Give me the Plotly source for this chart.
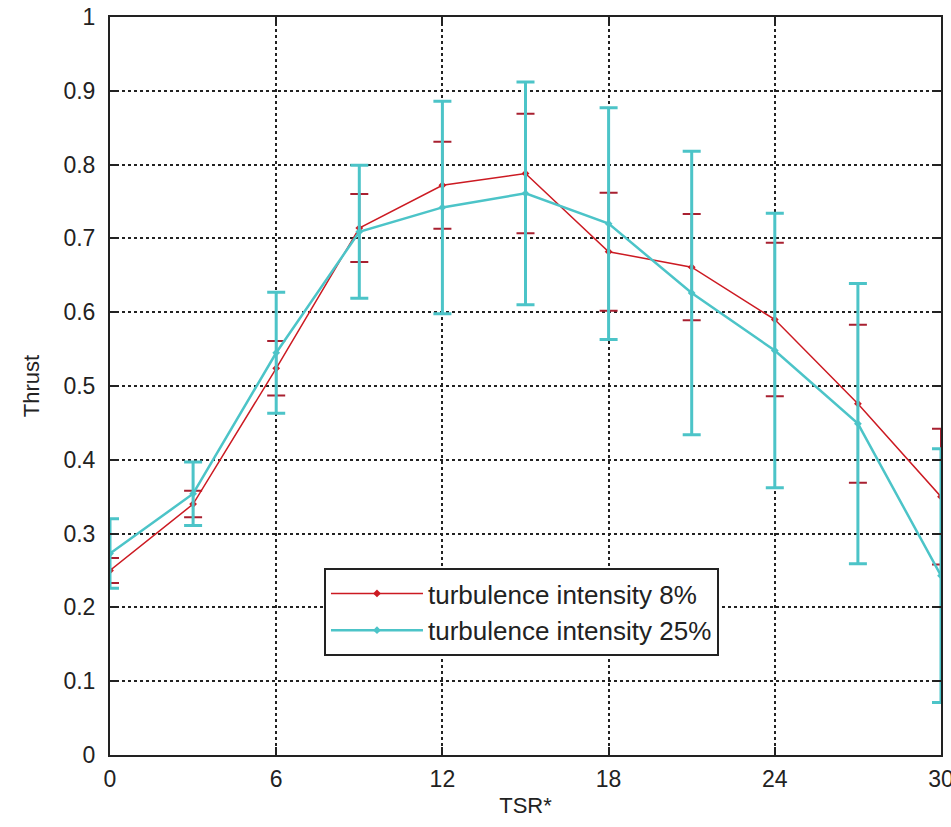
import plotly.graph_objects as go

tsr = [0, 3, 6, 9, 12, 15, 18, 21, 24, 27, 30]

thrust_8 = [0.250, 0.340, 0.524, 0.714, 0.772, 0.788, 0.682, 0.661, 0.590, 0.476, 0.350]
err_8 = [0.017, 0.018, 0.037, 0.046, 0.059, 0.081, 0.080, 0.072, 0.104, 0.107, 0.092]

thrust_25 = [0.273, 0.354, 0.545, 0.709, 0.742, 0.761, 0.720, 0.626, 0.548, 0.449, 0.243]
err_25 = [0.047, 0.043, 0.082, 0.090, 0.144, 0.151, 0.157, 0.192, 0.186, 0.190, 0.172]

x_ticks = [0, 6, 12, 18, 24, 30]
y_ticks = [0, 0.1, 0.2, 0.3, 0.4, 0.5, 0.6, 0.7, 0.8, 0.9, 1]
y_labels = ["0", "0.1", "0.2", "0.3", "0.4", "0.5", "0.6", "0.7", "0.8", "0.9", "1"]

RED = "#cc1a22"
CYAN = "#4cc4c8"
FONT = "Liberation Sans, Arial, sans-serif"

fig = go.Figure()
fig.add_trace(go.Scatter(
    x=tsr, y=thrust_8, mode="lines+markers",
    name="turbulence intensity 8%",
    line=dict(color=RED, width=1.5),
    marker=dict(color=RED, size=6, symbol="diamond"),
    error_y=dict(type="data", array=err_8, visible=True, color="#a82030", thickness=2, width=9),
))
fig.add_trace(go.Scatter(
    x=tsr, y=thrust_25, mode="lines+markers",
    name="turbulence intensity 25%",
    line=dict(color=CYAN, width=2.5),
    marker=dict(color=CYAN, size=6, symbol="diamond"),
    error_y=dict(type="data", array=err_25, visible=True, color=CYAN, thickness=3, width=9),
))

axis_common = dict(
    showline=True, linecolor="#222222", linewidth=2, mirror="allticks",
    ticks="inside", ticklen=8, tickcolor="#222222", tickwidth=2,
    showgrid=True, gridcolor="#222222", griddash="dot", gridwidth=1.5,
    zeroline=False, ticklabeloverflow="allow", automargin=False,
    tickfont=dict(family=FONT, size=23, color="#222222"),
    title_font=dict(family=FONT, size=22, color="#222222"),
)

fig.update_xaxes(range=[0, 30], tickvals=x_ticks, ticktext=[str(v) for v in x_ticks],
                 title_text="TSR*", title_standoff=7, ticklabelstandoff=2, **axis_common)
fig.update_yaxes(range=[0, 1], tickvals=y_ticks, ticktext=y_labels,
                 title_text="Thrust", title_standoff=18, ticklabelstandoff=8, **axis_common)

fig.update_layout(
    width=951, height=827,
    margin=dict(l=110, r=10, t=17, b=72),
    plot_bgcolor="white", paper_bgcolor="white",
    showlegend=True,
    legend=dict(
        x=0.2575, y=0.2534, xanchor="left", yanchor="top",
        bgcolor="white", bordercolor="#222222", borderwidth=2,
        font=dict(family=FONT, size=26, color="#222222"),
        tracegroupgap=0, itemwidth=92,
    ),
)

fig.write_html("out.html", config={"displayModeBar": False},
               post_script="document.body.style.margin='0';")
